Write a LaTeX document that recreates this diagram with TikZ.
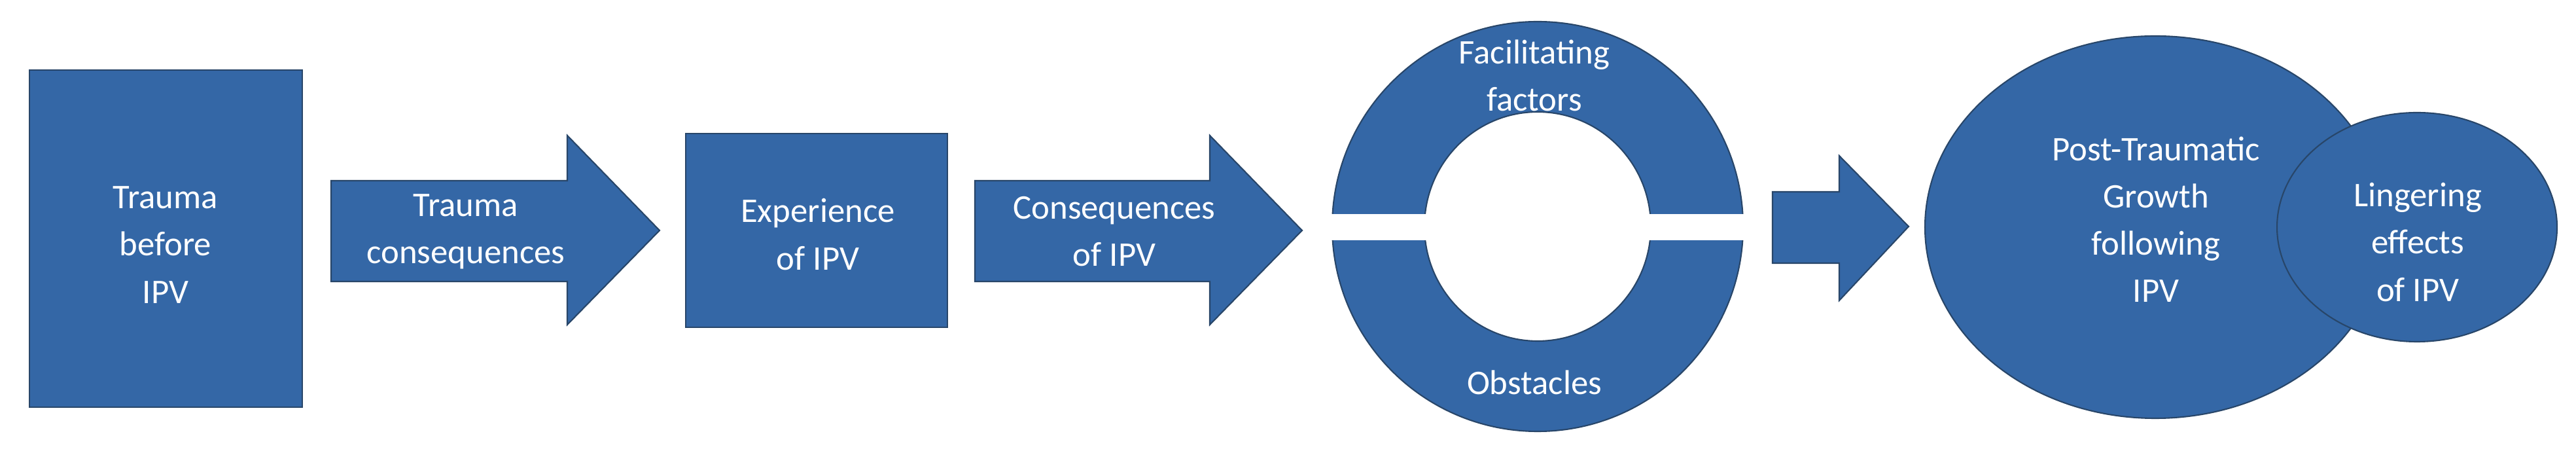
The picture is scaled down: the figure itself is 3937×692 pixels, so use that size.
\documentclass[tikz,border=0pt]{standalone}
\usepackage{fontspec}
\setmainfont{Carlito}
\definecolor{bf}{RGB}{52,103,166}
\definecolor{bd}{RGB}{40,70,105}
\begin{document}
\begin{tikzpicture}[x=0.01cm,y=-0.01cm,
  sh/.style={fill=bf,draw=bd,line width=0.6pt},
  tx/.style={text=white,align=center,font=\fontsize{15}{20.5}\selectfont}]
\useasboundingbox (0,0) rectangle (3937,692);
\fill[white] (0,0) rectangle (3937,692);
% rect 1
\draw[sh] (45,107) rectangle (462,622);
\node[tx] (r1) at (253,374) {Trauma\\before\\IPV};
% arrow 1
\draw[sh] (506,276) -- (867,276) -- (867,207) -- (1008,352) -- (867,496) -- (867,430) -- (506,430) -- cycle;
\node[tx] (a1) at (712,354) {Trauma\\consequences};
% rect 2
\draw[sh] (1048,204) rectangle (1448,500);
\node[tx] (r2) at (1250,358) {Experience\\of IPV};
% arrow 2
\draw[sh] (1490,276) -- (1849,276) -- (1849,207) -- (1990,352) -- (1849,496) -- (1849,430) -- (1490,430) -- cycle;
\node[tx] (a2) at (1703,354) {Consequences\\of IPV};
% ring
\begin{scope}
\clip (1900,0) rectangle (2800,327);
\draw[sh,even odd rule] (2350,346) ellipse [x radius=314,y radius=313] (2350,346) ellipse [x radius=173,y radius=175];
\end{scope}
\begin{scope}
\clip (1900,368) rectangle (2800,692);
\draw[sh,even odd rule] (2350,346) ellipse [x radius=314,y radius=313] (2350,346) ellipse [x radius=173,y radius=175];
\end{scope}
\node[tx] (ff) at (2345,115) {Facilitating\\factors};
\node[tx] (ob) at (2345,584) {Obstacles};
% arrow 3
\draw[sh] (2709,293) -- (2811,293) -- (2811,238) -- (2917,346) -- (2811,459) -- (2811,402) -- (2709,402) -- cycle;
% ellipses
\draw[sh] (3294,347) ellipse [x radius=352,y radius=292];
\node[tx] (pt) at (3295,335) {Post-Traumatic\\Growth\\following\\IPV};
\draw[sh] (3694,347) ellipse [x radius=214,y radius=175];
\node[tx] (le) at (3695,370) {Lingering\\effects\\of IPV};
\end{tikzpicture}
\end{document}
